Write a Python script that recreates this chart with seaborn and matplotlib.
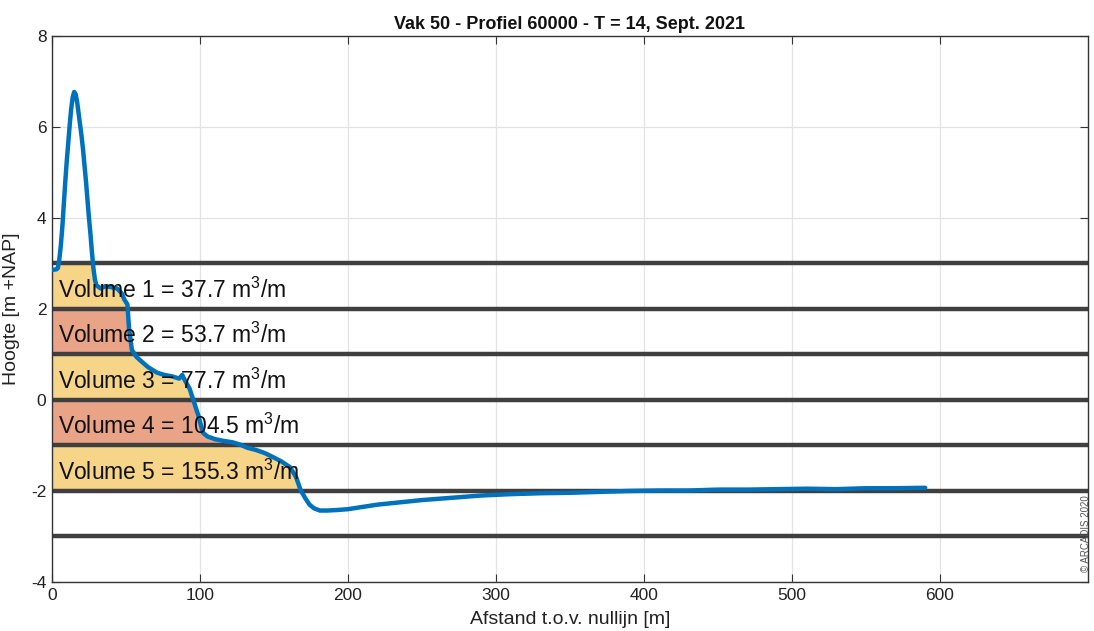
import numpy as np
import pandas as pd
import matplotlib
matplotlib.use("Agg")
import matplotlib.pyplot as plt
import seaborn as sns

# Cross-shore profile (distance from reference line, elevation)
distance = [0, 3, 4, 5, 6, 7, 8, 9, 10, 11, 12, 13, 14, 15, 16, 17, 18, 19, 20, 21, 22, 23,
            24, 25, 26, 27, 28, 29, 30, 33, 36, 40, 44, 47, 49,
            51, 52, 54, 57, 60, 65, 71, 76, 81, 86, 88, 90, 93, 96, 99, 102, 105, 110, 116,
            122, 127, 132, 138, 144, 149, 155, 161, 165, 168, 171, 174, 177, 181, 186, 192,
            200, 210, 220, 235, 250, 270, 290, 310, 330, 350, 370, 390, 410, 430, 450, 470,
            490, 510, 530, 550, 570, 590]
height = [2.86, 2.87, 2.9, 3.1, 3.4, 3.8, 4.3, 4.8, 5.25, 5.65, 6.05, 6.4, 6.65, 6.77, 6.72,
          6.55, 6.3, 6.05, 5.8, 5.5, 5.15, 4.8, 4.4, 4.0, 3.65, 3.25, 2.9, 2.65, 2.52,
          2.45, 2.5, 2.48, 2.45, 2.35, 2.2, 2.1, 1.6, 1.1, 0.95, 0.86, 0.72, 0.6, 0.55, 0.52,
          0.47, 0.55, 0.42, 0.25, -0.05, -0.35, -0.72, -0.8, -0.86, -0.9, -0.93, -0.98,
          -1.05, -1.1, -1.17, -1.25, -1.35, -1.48, -1.7, -1.98, -2.15, -2.3, -2.38, -2.43,
          -2.43, -2.42, -2.4, -2.35, -2.3, -2.25, -2.2, -2.15, -2.1, -2.07, -2.05, -2.04,
          -2.02, -2.0, -1.99, -1.99, -1.97, -1.97, -1.96, -1.95, -1.96, -1.94, -1.94, -1.93]

# Volume bands
band_top = [3, 2, 1, 0, -1]
band_bottom = [2, 1, 0, -1, -2]
band_volume = [37.7, 53.7, 77.7, 104.5, 155.3]
band_color = ["#F6D488", "#E9A488", "#F6D488", "#E9A488", "#F6D488"]
level_lines = [3, 2, 1, 0, -1, -2, -3]

title = "Vak 50 - Profiel 60000 - T = 14, Sept. 2021"
x_ticks = [0, 100, 200, 300, 400, 500, 600]
y_ticks = [-4, -2, 0, 2, 4, 6, 8]

sns.set_theme(style="whitegrid")
plt.rcParams["font.family"] = ["Liberation Sans", "DejaVu Sans"]
plt.rcParams["axes.unicode_minus"] = False
plt.rcParams["mathtext.fontset"] = "custom"
plt.rcParams["mathtext.rm"] = "Liberation Sans"
plt.rcParams["mathtext.it"] = "Liberation Sans"

df = pd.DataFrame({"afstand": distance, "hoogte": height})
x = np.array(distance, dtype=float)
h = np.array(height, dtype=float)

fig = plt.figure(figsize=(10.94, 6.31), dpi=100)
ax = fig.add_axes([0.0475, 0.0777, 0.947, 0.8653])

# Filled volume bands: from the origin up to the first point where the
# profile drops below the band's lower level
for n, (top, bot, vol, col) in enumerate(zip(band_top, band_bottom, band_volume, band_color), 1):
    below = np.where((h < bot) & (x > 20))[0]
    i_end = below[0] if len(below) else len(x) - 1
    xb = x[:i_end + 1]
    hb = np.clip(h[:i_end + 1], bot, top)
    ax.fill_between(xb, bot, hb, color=col, lw=0, zorder=1)
    ax.text(4, (top + bot) / 2 - 0.08, f"Volume {n} = {vol:.1f} m$^3$/m",
            fontsize=16.5, va="center", ha="left", color="#111111", zorder=5)

for lv in level_lines:
    ax.axhline(lv, color="#3f3f3f", lw=3.2, zorder=2)

sns.lineplot(data=df, x="afstand", y="hoogte", ax=ax, color="#0072BD", lw=3.2,
             zorder=4, estimator=None, sort=False)

ax.set_xlim(0, 700)
ax.set_ylim(-4, 8)
ax.set_xticks(x_ticks)
ax.set_yticks(y_ticks)
ax.grid(True, color="#e3e3e3", lw=0.9)
ax.set_axisbelow(True)
for s in ax.spines.values():
    s.set_color("#333333")
    s.set_linewidth(1.0)
ax.tick_params(direction="in", length=6, width=0.8, colors="#333333",
               labelsize=12.5, labelcolor="#222222", top=True, right=True,
               bottom=True, left=True, pad=4)
ax.set_xlabel("Afstand t.o.v. nullijn [m]", fontsize=14, color="#222222", labelpad=6)
ax.set_ylabel("Hoogte [m +NAP]", fontsize=14, color="#222222", labelpad=8)
ax.set_title(title, fontsize=13, fontweight="bold", color="#111111", pad=5)

fig.text(0.997, 0.155, "© ARCADIS 2020", rotation=90, fontsize=7, color="#555555",
         ha="right", va="center")

fig.savefig("out.png", dpi=100, facecolor="white")
